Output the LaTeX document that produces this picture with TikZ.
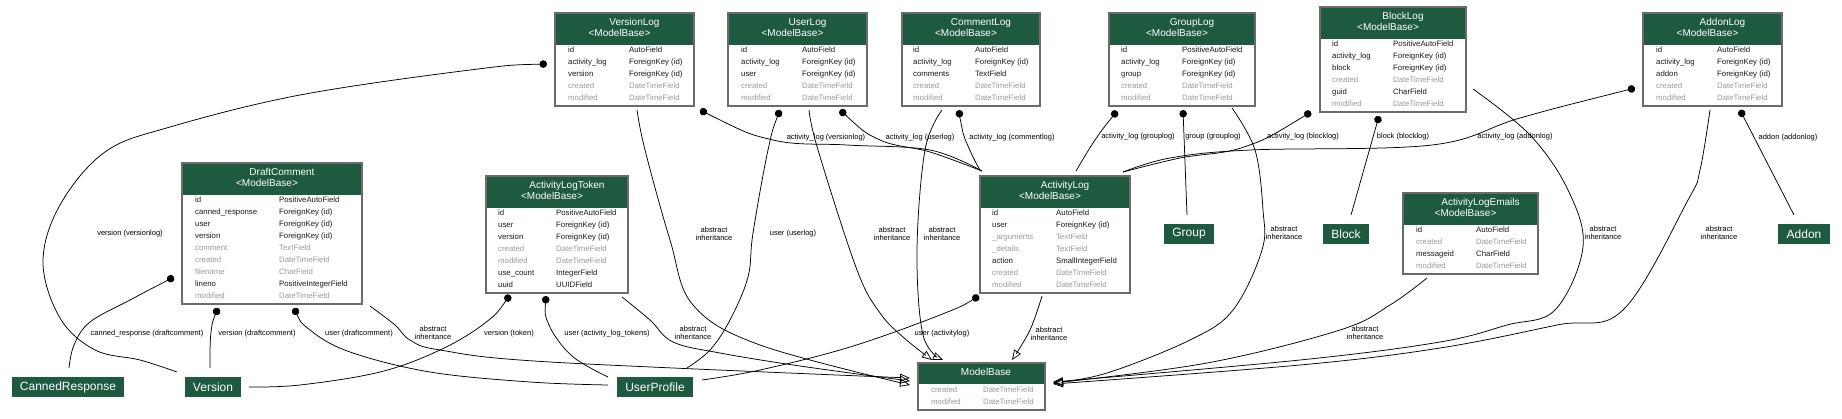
\documentclass[tikz,border=0pt]{standalone}
\usepackage{fontspec}
\setmainfont{Liberation Sans}
\usetikzlibrary{arrows.meta,calc}
\definecolor{ormgreen}{HTML}{1D5A40}
\definecolor{ormframe}{HTML}{6B6B6B}
\definecolor{ormgray}{HTML}{9A9A9A}
\definecolor{ormdark}{HTML}{1A1A1A}
\tikzset{
 hdrfill/.style={fill=ormgreen},
 modelframe/.style={draw=ormframe, line width=1.3pt, inner sep=0pt, outer sep=0pt, rectangle},
 hdrtext/.style={text=white, font=\fontsize{10}{11}\selectfont, inner sep=0pt, text height=7.5pt, text depth=2pt},
 field/.style={anchor=west, inner sep=0pt, font=\fontsize{7.8}{9}\selectfont, text height=6pt, text depth=1.8pt},
 fdark/.style={text=ormdark},
 flight/.style={text=ormgray},
 entity/.style={fill=ormgreen, text=white, font=\fontsize{12}{14}\selectfont, inner sep=0pt, outer sep=0pt, anchor=north west, minimum height=20pt},
 fk/.style={draw=black, line width=0.75pt, {Circle[length=7.5pt]}-},
 inh/.style={draw=black, line width=0.75pt, -{Triangle[open, length=10pt, width=8pt]}},
 elabel/.style={font=\fontsize{7.5}{8}\selectfont, inner sep=0pt, align=center},
}
\newcommand\tFK{ForeignKey (id)}
\newcommand\tDT{DateTimeField}
% #1 name, #2 x1, #3 y1, #4 x2, #5 col1 offset, #6 col2 offset, #7 rows count, #8 rows
\newcommand\ormmodel[8]{%
  \pgfmathsetmacro\ormw{#4-#2}%
  \pgfmathsetmacro\ormh{32+12*#7+1}%
  \pgfmathsetmacro\ormc{(#2+#4)/2}%
  \fill[hdrfill] (#2,#3) rectangle (#4,#3+32);
  \node[modelframe, minimum width=\ormw pt, minimum height=\ormh pt, anchor=north west] (#1) at (#2,#3) {};
  \node[hdrtext] (#1-t1) at (\ormc+10,#3+10) {#1};
  \node[hdrtext] (#1-t2) at (\ormc-5,#3+21) {<ModelBase>};
  \foreach \rowa/\rowb/\rowc [count=\rown] in {#8} {
    \node[field,\rowc] (#1-a\rown) at (#2+#5,#3+37+12*\rown-12) {\rowa};
    \node[field,\rowc] (#1-b\rown) at (#2+#6,#3+37+12*\rown-12) {\rowb};
  }%
}
\begin{document}
\begin{tikzpicture}[x=1pt,y=-1pt]
\fill[white] (0,0) rectangle (1842,418);
\useasboundingbox (0,0) rectangle (1842,418);

% ---------------- models ----------------
\ormmodel{VersionLog}{555}{13}{694}{13}{74}{5}{id/AutoField/fdark, activity\_log/\tFK/fdark, version/\tFK/fdark, created/\tDT/flight, modified/\tDT/flight}
\ormmodel{UserLog}{728}{13}{867}{13}{74}{5}{id/AutoField/fdark, activity\_log/\tFK/fdark, user/\tFK/fdark, created/\tDT/flight, modified/\tDT/flight}
\ormmodel{CommentLog}{902}{13}{1040}{11}{73}{5}{id/AutoField/fdark, activity\_log/\tFK/fdark, comments/TextField/fdark, created/\tDT/flight, modified/\tDT/flight}
\ormmodel{GroupLog}{1109}{13}{1255}{12}{73}{5}{id/PositiveAutoField/fdark, activity\_log/\tFK/fdark, group/\tFK/fdark, created/\tDT/flight, modified/\tDT/flight}
\ormmodel{BlockLog}{1320}{7}{1466}{12}{73}{6}{id/PositiveAutoField/fdark, activity\_log/\tFK/fdark, block/\tFK/fdark, created/\tDT/flight, guid/CharField/fdark, modified/\tDT/flight}
\ormmodel{AddonLog}{1643}{13}{1782}{13}{74}{5}{id/AutoField/fdark, activity\_log/\tFK/fdark, addon/\tFK/fdark, created/\tDT/flight, modified/\tDT/flight}
\ormmodel{DraftComment}{182}{163}{362}{13}{97}{9}{id/PositiveAutoField/fdark, canned\_response/\tFK/fdark, user/\tFK/fdark, version/\tFK/fdark, comment/TextField/flight, created/\tDT/flight, filename/CharField/flight, lineno/PositiveIntegerField/fdark, modified/\tDT/flight}
\ormmodel{ActivityLogToken}{486}{176}{628}{12}{70}{7}{id/PositiveAutoField/fdark, user/\tFK/fdark, version/\tFK/fdark, created/\tDT/flight, modified/\tDT/flight, use\_count/IntegerField/fdark, uuid/UUIDField/fdark}
\ormmodel{ActivityLog}{980}{176}{1130}{12}{76}{7}{id/AutoField/fdark, user/\tFK/fdark, \_arguments/TextField/flight, \_details/TextField/flight, action/SmallIntegerField/fdark, created/\tDT/flight, modified/\tDT/flight}
\ormmodel{ActivityLogEmails}{1403}{193}{1538}{13}{73}{4}{id/AutoField/fdark, created/\tDT/flight, messageid/CharField/fdark, modified/\tDT/flight}

% ModelBase
\fill[hdrfill] (918,363) rectangle (1045,384);
\node[modelframe, minimum width=127pt, minimum height=47pt, anchor=north west] (ModelBase) at (918,363) {};
\node[hdrtext] (ModelBase-t) at (986,373) {ModelBase};
\node[field,flight] (ModelBase-a1) at (931,390) {created};
\node[field,flight] (ModelBase-b1) at (983,390) {\tDT};
\node[field,flight] (ModelBase-a2) at (931,402) {modified};
\node[field,flight] (ModelBase-b2) at (983,402) {\tDT};

% plain entities
\node[entity, minimum width=112pt] (CannedResponse) at (12,377) {CannedResponse};
\node[entity, minimum width=56pt] (Version) at (185,377) {Version};
\node[entity, minimum width=76pt] (UserProfile) at (617,377) {UserProfile};
\node[entity, minimum width=50pt] (Group) at (1164,224) {Group};
\node[entity, minimum width=46pt] (Block) at (1323,224) {Block};
\node[entity, minimum width=52pt] (Addon) at (1778,224) {Addon};

% ---------------- connector end points ----------------
\coordinate (e1a) at ($(VersionLog.north west)+(-8,51)$);
\coordinate (e1b) at ($(Version.north west)+(-8,-5)$);
\coordinate (e2a) at ($(DraftComment.north west)+(-8,114)$);
\coordinate (e2b) at ($(CannedResponse.north west)+(57,-9)$);
\coordinate (e3a) at ($(DraftComment.north west)+(36,145)$);
\coordinate (e3b) at ($(Version.north west)+(25,-9)$);
\coordinate (e4a) at ($(DraftComment.north west)+(112,145)$);
\coordinate (e4b) at ($(UserProfile.north west)+(-9,8)$);
\coordinate (e5a) at ($(DraftComment.north west)+(188,143)$);
\coordinate (e5b) at ($(ModelBase.north west)+(-8,15)$);
\coordinate (e6a) at ($(ActivityLogToken.north west)+(24,119)$);
\coordinate (e6b) at ($(Version.north west)+(64,10)$);
\coordinate (e7a) at ($(ActivityLogToken.north west)+(60,120)$);
\coordinate (e7b) at ($(UserProfile.north west)+(-9,0)$);
\coordinate (e8a) at ($(ActivityLogToken.north west)+(136,121)$);
\coordinate (e8b) at ($(ModelBase.north west)+(-8,18)$);
\coordinate (e9a) at ($(VersionLog.north west)+(82,97)$);
\coordinate (e9b) at ($(ModelBase.north west)+(-8,22)$);
\coordinate (e10a) at ($(UserLog.north west)+(52,97)$);
\coordinate (e10b) at ($(UserProfile.north west)+(70,-9)$);
\coordinate (e11a) at ($(UserLog.north west)+(81,97)$);
\coordinate (e11b) at ($(ModelBase.north west)+(14,-3)$);
\coordinate (e12a) at ($(CommentLog.north west)+(40,97)$);
\coordinate (e12b) at ($(ModelBase.north west)+(25,-3)$);
\coordinate (e13a) at ($(ActivityLog.north west)+(-1,120)$);
\coordinate (e13b) at ($(UserProfile.north west)+(85,3)$);
\coordinate (e14a) at ($(ActivityLog.north west)+(62,120)$);
\coordinate (e14b) at ($(ModelBase.north west)+(94,-3)$);
\coordinate (e15a) at ($(GroupLog.north west)+(123,95)$);
\coordinate (e15b) at ($(ModelBase.north west)+(135,20)$);
\coordinate (e16a) at ($(BlockLog.north west)+(153,82)$);
\coordinate (e16b) at ($(ModelBase.north west)+(135,19)$);
\coordinate (e17a) at ($(AddonLog.north west)+(67,97)$);
\coordinate (e17b) at ($(ModelBase.north west)+(135,21)$);
\coordinate (e18a) at ($(ActivityLogEmails.north west)+(24,85)$);
\coordinate (e18b) at ($(ModelBase.north west)+(135,20)$);
\coordinate (e19a) at ($(AddonLog.north west)+(97,97)$);
\coordinate (e19b) at ($(Addon.north west)+(16,-9)$);
\coordinate (e20a) at ($(BlockLog.north west)+(59,109)$);
\coordinate (e20b) at ($(Block.north west)+(28,-9)$);
\coordinate (e21a) at ($(GroupLog.north west)+(74,97)$);
\coordinate (e21b) at ($(Group.north west)+(23,-9)$);
\coordinate (e22a) at ($(GroupLog.north west)+(8,98)$);
\coordinate (e22b) at ($(ActivityLog.north west)+(96,-5)$);
\coordinate (e23a) at ($(BlockLog.north west)+(-9,105)$);
\coordinate (e23b) at ($(ActivityLog.north west)+(143,-4)$);
\coordinate (e24a) at ($(AddonLog.north west)+(-8,75)$);
\coordinate (e24b) at ($(ActivityLog.north west)+(143,-4)$);
\coordinate (e25a) at ($(VersionLog.north west)+(145,97)$);
\coordinate (e25b) at ($(ActivityLog.north west)+(2,-5)$);
\coordinate (e26a) at ($(UserLog.north west)+(112,97)$);
\coordinate (e26b) at ($(ActivityLog.north west)+(2,-5)$);
\coordinate (e27a) at ($(CommentLog.north west)+(57,97)$);
\coordinate (e27b) at ($(ActivityLog.north west)+(0,-6)$);

% ---------------- foreign keys ----------------
\draw[fk] plot[smooth, tension=0.6] coordinates {(e1a) (470,70) (300,95) (170,127) (105,152) (60,205) (43,262) (60,318) (95,350) (140,360) (e1b)};
\draw[fk] plot[smooth, tension=0.6] coordinates {(e2a) (130,300) (90,322) (74,345) (e2b)};
\draw[fk] plot[smooth, tension=0.6] coordinates {(e3a) (211,332) (e3b)};
\draw[fk] plot[smooth, tension=0.6] coordinates {(e4a) (310,330) (350,352) (430,372) (530,382) (e4b)};
\draw[fk] plot[smooth, tension=0.6] coordinates {(e6a) (485,323) (440,350) (380,372) (300,385) (e6b)};
\draw[fk] plot[smooth, tension=0.6] coordinates {(e7a) (549,325) (572,356) (e7b)};
\draw[fk] plot[smooth, tension=0.6] coordinates {(e10a) (768,150) (753,233) (748,277) (730,320) (710,350) (e10b)};
\draw[fk] plot[smooth, tension=0.6] coordinates {(e13a) (940,315) (850,347) (760,370) (e13b)};
\draw[fk] (e19a) -- (e19b);
\draw[fk] (e20a) -- (e20b);
\draw[fk] (e21a) -- (e21b);
\draw[fk] plot[smooth, tension=0.6] coordinates {(e22a) (1095,140) (e22b)};
\draw[fk] plot[smooth, tension=0.6] coordinates {(e23a) (1244,147) (1180,158) (e23b)};
\draw[fk] plot[smooth, tension=0.6] coordinates {(e24a) (1520,118) (1432,145) (1250,150) (1170,158) (e24b)};
\draw[fk] plot[smooth, tension=0.6] coordinates {(e25a) (773,140) (847,145) (930,150) (e25b)};
\draw[fk] plot[smooth, tension=0.6] coordinates {(e26a) (880,140) (930,152) (e26b)};
\draw[fk] plot[smooth, tension=0.6] coordinates {(e27a) (963,133) (973,157) (e27b)};

% ---------------- inheritance ----------------
\draw[inh] plot[smooth, tension=0.6] coordinates {(e5a) (395,325) (410,340) (440,350) (550,362) (e5b)};
\draw[inh] plot[smooth, tension=0.6] coordinates {(e8a) (650,320) (673,342) (720,353) (800,366) (e8b)};
\draw[inh] plot[smooth, tension=0.6] coordinates {(e9a) (645,150) (670,240) (693,305) (760,345) (e9b)};
\draw[inh] plot[smooth, tension=0.6] coordinates {(e11a) (818,150) (857,270) (880,313) (903,337) (e11b)};
\draw[inh] plot[smooth, tension=0.6] coordinates {(e12a) (925,150) (917,250) (923,335) (e12b)};
\draw[inh] plot[smooth, tension=0.6] coordinates {(e14a) (1030,330) (e14b)};
\draw[inh] plot[smooth, tension=0.6] coordinates {(e15a) (1255,150) (1263,210) (1262,250) (1233,310) (1190,340) (1107,373) (e15b)};
\draw[inh] plot[smooth, tension=0.6] coordinates {(e16a) (1530,135) (1568,190) (1583,247) (1555,310) (1507,325) (1440,342) (1300,360) (e16b)};
\draw[inh] plot[smooth, tension=0.6] coordinates {(e17a) (1700,170) (1688,200) (1623,310) (1557,325) (1440,348) (1300,365) (e17b)};
\draw[inh] plot[smooth, tension=0.6] coordinates {(e18a) (1390,305) (1340,330) (1207,363) (e18b)};

% ---------------- labels ----------------
\node[elabel] (l1) at (130,234) {version (versionlog)};
\node[elabel] (l2) at (147,334) {canned\_response (draftcomment)};
\node[elabel] (l3) at (257,334) {version (draftcomment)};
\node[elabel] (l4) at (359,334) {user (draftcomment)};
\node[elabel] (l5) at (433,333) {abstract\\inheritance};
\node[elabel] (l6) at (509,334) {version (token)};
\node[elabel] (l7) at (607,334) {user (activity\_log\_tokens)};
\node[elabel] (l8) at (693,333) {abstract\\inheritance};
\node[elabel] (l9) at (714,234) {abstract\\inheritance};
\node[elabel] (l10) at (793,234) {user (userlog)};
\node[elabel] (l11) at (892,234) {abstract\\inheritance};
\node[elabel] (l12) at (942,234) {abstract\\inheritance};
\node[elabel] (l13) at (942,334) {user (activitylog)};
\node[elabel] (l14) at (1049,334) {abstract\\inheritance};
\node[elabel] (l15) at (1284,233) {abstract\\inheritance};
\node[elabel] (l16) at (1603,233) {abstract\\inheritance};
\node[elabel] (l17) at (1719,233) {abstract\\inheritance};
\node[elabel] (l18) at (1365,333) {abstract\\inheritance};
\node[elabel] (l19) at (1788,138) {addon (addonlog)};
\node[elabel] (l20) at (1403,137) {block (blocklog)};
\node[elabel] (l21) at (1213,137) {group (grouplog)};
\node[elabel] (l22) at (1138,137) {activity\_log (grouplog)};
\node[elabel] (l23) at (1303,137) {activity\_log (blocklog)};
\node[elabel] (l24) at (1515,137) {activity\_log (addonlog)};
\node[elabel] (l25) at (826,138) {activity\_log (versionlog)};
\node[elabel] (l26) at (920,138) {activity\_log (userlog)};
\node[elabel] (l27) at (1012,138) {activity\_log (commentlog)};
\end{tikzpicture}
\end{document}
